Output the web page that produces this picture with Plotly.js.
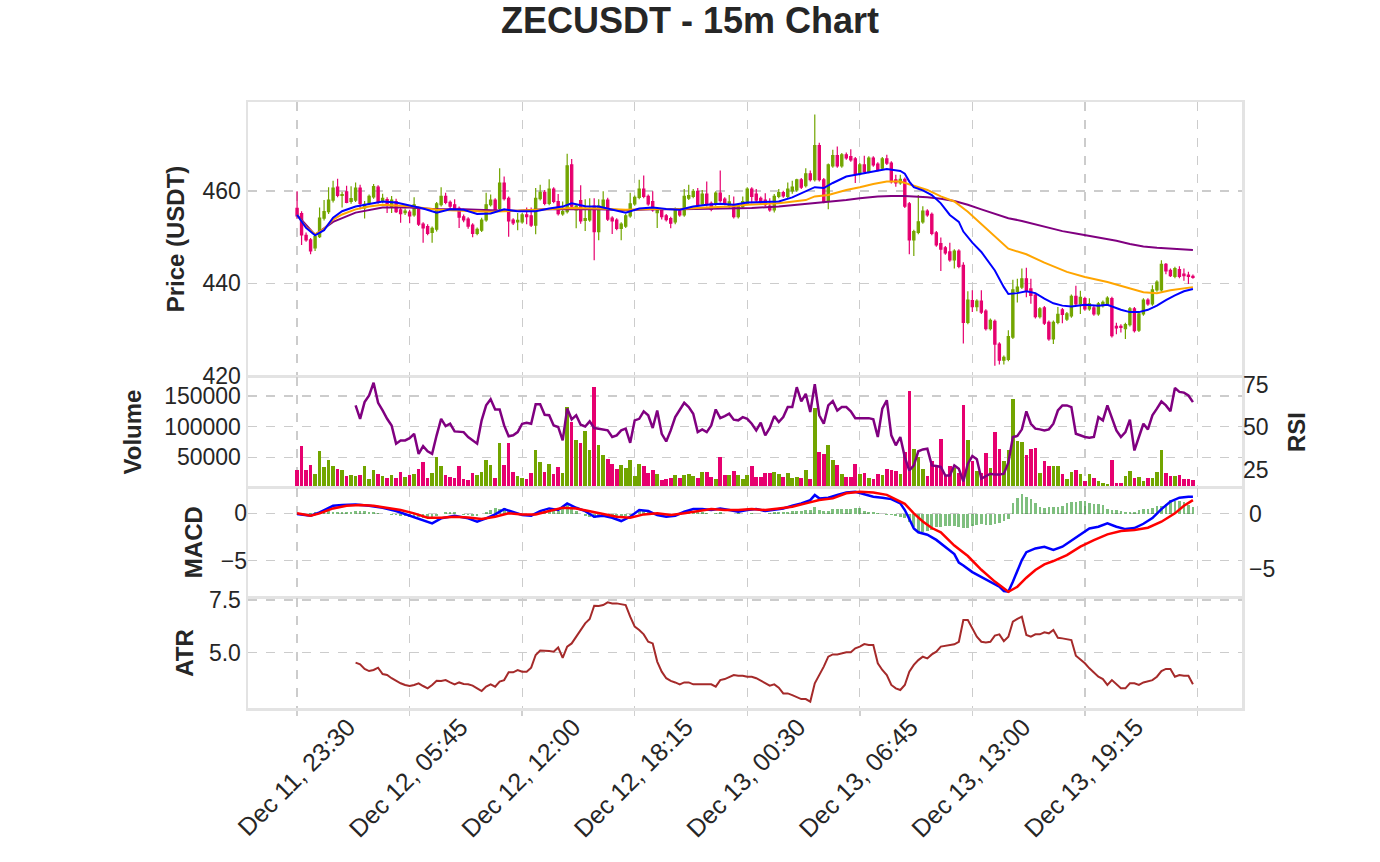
<!DOCTYPE html>
<html>
<head>
<meta charset="utf-8">
<script src="https://cdn.plot.ly/plotly-3.0.1.min.js"></script>
<style>
  body { margin: 0; background: #fff; }
  #chart { width: 1380px; height: 862px; }
</style>
</head>
<body>
<div id="chart"></div>
<script>
// ZECUSDT 15m candles, bar 0 = Dec 11 23:30
const tickPos = [0, 25, 50, 75, 100, 125, 150, 175, 200];
const tickLabels = ['Dec 11, 23:30', 'Dec 12, 05:45', 'Dec 12, 12:00', 'Dec 12, 18:15',
  'Dec 13, 00:30', 'Dec 13, 06:45', 'Dec 13, 13:00', 'Dec 13, 19:15', ''];

const opens = [
  456.2,455.1,450.4,449.4,447.7,450.1,454.1,455.5,458.0,460.8,
  459.0,459.8,457.7,458.0,460.6,456.3,457.3,458.7,460.8,457.7,
  458.1,456.6,457.7,455.9,455.3,455.4,454.8,456.1,452.8,452.3,
  451.0,451.7,457.0,458.8,457.5,457.0,456.2,454.4,453.9,452.6,
  450.8,451.5,453.7,457.0,458.0,456.2,461.7,458.4,453.7,453.3,
  453.3,454.8,454.6,452.6,458.3,459.7,457.3,460.4,457.7,455.0,
  455.5,465.6,455.9,457.9,453.6,453.7,456.7,451.2,456.6,458.0,
  454.1,453.7,451.9,452.4,454.6,457.2,458.6,460.4,458.8,457.7,
  455.3,455.9,454.6,454.0,453.3,455.7,454.8,458.4,458.8,459.9,
  457.2,459.3,457.3,457.2,459.5,458.2,456.7,456.7,454.4,456.6,
  457.3,460.4,459.3,458.4,458.0,456.7,455.9,458.8,459.6,458.8,
  460.0,460.2,462.4,461.1,463.7,462.4,469.8,462.4,457.7,465.4,
  467.6,465.4,467.8,467.4,466.9,463.7,465.6,464.2,467.1,465.8,
  464.9,466.9,466.0,462.4,461.7,462.5,457.2,449.4,451.0,453.3,
  455.6,454.9,450.9,448.6,447.7,446.8,445.1,447.0,443.9,431.6,
  436.3,435.0,436.2,434.0,430.2,431.8,426.9,423.4,423.6,428.4,
  438.3,439.2,441.0,438.8,437.5,432.8,434.7,431.6,428.0,431.6,
  434.3,432.3,433.0,437.2,435.6,436.7,434.5,434.7,433.4,435.2,
  435.6,436.7,430.7,430.7,430.2,431.1,434.5,429.9,433.4,436.4,
  435.6,438.6,438.6,444.1,442.8,441.5,443.0,442.0,441.8,441.5
];
const highs = [
  459.9,455.6,451.0,449.8,450.5,456.4,458.0,460.8,462.2,462.6,
  459.8,461.1,461.0,461.8,461.3,457.8,459.2,461.5,461.2,459.4,
  458.6,458.9,458.3,456.4,456.2,455.9,458.6,456.6,453.2,452.8,
  452.3,457.6,460.8,459.6,457.9,458.2,456.6,454.9,454.3,453.0,
  452.1,454.2,459.6,459.2,458.4,464.9,463.1,458.8,454.1,455.2,
  455.2,456.4,456.4,460.6,461.3,460.2,462.5,460.8,459.3,457.7,
  468.0,466.9,457.1,461.2,458.2,458.4,458.4,458.2,459.9,458.5,
  454.5,454.1,453.2,455.0,459.6,459.0,462.4,463.3,459.2,459.9,
  456.3,456.3,455.0,454.4,456.4,456.1,460.4,461.3,460.4,460.6,
  460.2,462.0,457.7,459.9,464.4,458.6,459.1,458.8,457.1,458.8,
  460.8,460.8,460.4,458.8,459.5,458.4,459.3,460.4,460.0,461.8,
  462.2,462.6,462.8,464.9,464.4,476.5,470.4,462.8,465.9,468.9,
  469.6,468.2,468.3,469.0,467.3,466.0,467.6,467.5,467.5,466.2,
  467.3,467.8,466.4,463.5,463.5,462.9,457.6,451.6,459.1,456.7,
  456.0,455.3,451.3,449.9,448.1,448.8,447.4,447.4,444.6,438.3,
  438.5,436.6,438.5,434.4,432.4,432.2,427.3,424.4,429.9,440.8,
  441.0,443.2,443.4,441.0,437.9,434.9,435.1,432.0,432.0,434.9,
  434.7,433.8,437.6,439.5,438.4,437.1,436.8,435.1,436.0,436.3,
  437.2,437.1,431.5,431.2,431.5,434.9,434.9,433.8,436.8,436.8,
  439.6,440.7,445.0,444.4,443.2,443.6,443.7,443.2,442.5,441.9
];
const lows = [
  454.0,448.3,449.0,446.3,447.0,449.8,453.6,455.0,457.5,458.6,
  456.4,457.3,457.2,457.6,456.0,454.0,457.0,458.3,457.2,457.3,
  455.2,455.2,455.2,453.1,454.8,453.0,454.4,452.4,448.8,450.4,
  448.8,451.2,456.6,457.1,456.2,455.8,452.0,453.2,451.8,450.0,
  450.4,451.1,453.3,456.6,455.5,455.8,457.9,450.1,452.6,451.5,
  452.9,452.8,452.2,450.6,457.9,456.9,456.9,457.3,454.7,454.6,
  455.1,456.3,451.9,452.9,451.3,453.3,445.0,449.3,456.2,453.5,
  450.7,451.5,449.3,452.0,454.2,456.8,458.2,458.4,456.8,455.5,
  452.0,453.8,453.4,451.9,452.8,454.4,454.4,458.0,458.4,456.6,
  456.8,456.6,455.6,456.8,457.5,456.9,456.3,454.0,454.0,456.2,
  456.9,457.3,457.6,457.1,456.6,455.5,455.3,458.4,458.5,458.4,
  459.4,459.8,460.4,460.7,462.0,462.0,462.0,457.3,456.0,465.0,
  465.0,465.0,466.7,466.3,461.7,463.3,463.8,463.8,465.2,464.2,
  464.5,465.6,461.6,460.9,461.3,456.3,446.3,445.9,450.6,452.9,
  454.4,450.4,447.9,442.7,446.2,444.7,443.2,443.3,427.0,431.2,
  433.8,434.0,433.4,429.8,429.8,422.2,422.5,422.5,423.2,428.0,
  435.9,438.8,437.0,435.6,432.4,432.4,431.0,427.6,426.9,431.2,
  431.4,431.9,432.6,435.2,433.4,434.1,434.1,433.0,433.0,434.8,
  435.2,428.3,429.0,429.4,428.0,430.7,429.4,429.5,433.0,435.2,
  435.2,438.2,438.2,442.0,441.4,441.1,441.1,440.6,439.9,441.0
];
const closes = [
  454.6,450.5,449.4,447.0,450.1,454.1,455.5,458.0,460.6,459.0,
  459.2,457.5,458.3,460.6,457.3,457.1,458.8,460.9,457.7,458.4,
  457.0,458.0,455.5,455.1,455.6,454.6,457.0,452.8,452.0,450.8,
  451.9,457.2,458.8,457.5,456.7,456.2,454.3,453.7,452.4,450.8,
  451.7,453.7,457.0,458.0,455.9,461.7,458.3,453.5,453.1,453.6,
  454.8,454.4,452.6,458.4,459.7,457.3,460.4,457.7,455.1,455.5,
  465.4,456.7,456.7,453.5,454.0,456.2,451.2,456.7,458.0,453.9,
  453.5,451.9,452.8,454.6,457.2,458.6,460.4,458.8,457.2,455.9,
  455.9,454.4,453.8,453.0,455.9,454.8,458.8,459.0,459.9,457.0,
  459.3,457.0,456.0,459.5,457.9,457.3,457.6,454.4,456.7,457.7,
  460.4,458.8,458.0,457.5,457.0,455.9,458.8,459.6,458.9,460.4,
  460.8,462.4,460.8,463.7,462.4,469.8,462.4,457.7,465.6,467.6,
  465.4,467.8,467.1,466.7,463.7,465.6,464.2,467.1,465.6,464.6,
  466.9,466.0,462.0,461.7,462.5,456.7,449.4,451.2,453.3,455.6,
  454.8,450.8,448.3,447.4,446.6,445.1,447.0,443.7,431.6,436.4,
  435.0,436.2,433.8,430.2,432.0,426.9,423.4,424.0,428.5,438.6,
  439.2,441.0,438.5,437.4,432.8,434.5,431.4,428.0,431.6,433.3,
  433.3,433.4,437.2,435.6,437.0,434.5,435.6,433.4,435.6,435.9,
  436.8,428.7,430.4,430.5,431.1,434.5,429.8,433.4,436.4,435.6,
  438.6,440.3,444.1,442.7,441.7,443.2,441.5,441.7,441.5,441.3
];
const volumes = [
  30100,67700,30100,38200,22000,60700,33900,46200,35500,31700,
  30100,19400,21000,19400,21000,35500,14000,29000,23100,19400,
  15600,21000,16700,25800,17700,21000,22000,31700,41900,15600,
  24700,50000,35500,21000,17700,16700,35500,14000,12900,24700,
  21000,26300,45200,37100,15600,74200,38200,74200,25800,19400,
  16700,14000,24700,61300,42500,25800,39800,22000,33900,23700,
  132200,108100,78500,74200,93000,61300,164500,69400,54300,47800,
  39200,31700,38200,32800,45200,19400,39800,35500,24700,30100,
  22000,12400,15100,16700,20400,16700,21000,22000,19400,15600,
  26300,26300,17700,14000,50000,21000,21000,27400,21000,14000,
  21000,35500,17700,17700,24700,24700,25800,23100,17700,23700,
  16700,17700,15600,29000,14000,130600,58100,55400,69400,45200,
  37100,22000,17700,17700,39800,23100,23700,15600,14000,22000,
  20400,31200,29000,27400,22000,58100,158000,63400,50000,31700,
  19400,44600,38200,80100,21000,35500,32800,24700,136000,78500,
  44600,28500,24700,57000,32800,91900,64000,44600,62400,145700,
  76900,74700,54300,64000,65000,24700,44600,35500,35500,35500,
  22000,14000,25800,29000,22000,11300,22000,15600,11300,8600,
  5900,46200,8600,8600,19400,28500,16700,17700,11300,15600,
  16700,25800,62400,24700,19400,19400,21000,14000,15100,13000
];

// moving averages, read at the bars listed in the matching *Idx arrays
const emaFastIdx = [0,2,4,6,8,10,13,16,19,22,25,28,31,34,37,40,43,46,49,53,56,59,61,64,67,70,73,76,79,82,85,88,91,94,97,100,104,107,110,113,115,117,119,122,125,128,131,134,135,136,137,139,141,143,145,147,148,150,152,155,157,158,160,162,164,166,168,170,172,175,178,180,183,185,187,189,191,193,195,197,199];
const emaFast = [454.8,452.0,450.4,451.5,454.2,455.6,456.6,457.1,457.7,457.5,456.8,456.2,455.3,456.0,455.9,455.0,455.1,456.0,455.6,455.6,456.2,456.6,457.3,456.7,456.6,455.9,455.3,456.2,456.4,456.1,455.9,456.6,457.0,457.2,457.0,457.5,457.7,457.7,458.6,459.9,460.8,460.6,461.7,463.1,463.7,464.2,464.7,464.3,463.7,462.0,460.8,460.1,459.1,457.3,454.8,453.3,451.2,448.8,446.8,442.8,439.2,437.7,437.9,438.3,437.9,436.7,435.7,435.2,435.0,435.4,435.2,435.4,434.3,433.8,433.8,434.3,435.2,436.4,437.4,438.3,438.8];
const emaMidIdx = [0,2,4,6,8,10,13,16,19,25,31,37,43,49,55,61,67,73,79,85,91,96,100,107,113,115,118,122,125,128,131,134,137,140,143,146,149,152,154,156,158,162,166,171,175,180,184,188,191,194,199];
const emaMid = [454.8,452.2,450.6,451.8,453.8,454.9,456.0,456.6,457.0,456.7,455.9,455.7,455.5,455.7,456.0,456.3,456.2,455.9,456.1,456.1,456.4,456.6,457.0,457.3,458.0,458.8,459.1,460.2,460.8,461.5,462.0,462.0,461.1,460.2,458.8,457.7,455.5,452.8,451.2,449.4,447.5,446.3,444.5,442.5,441.4,440.3,439.2,438.1,437.9,438.5,439.2];
const emaSlowIdx = [0,4,8,13,19,25,31,37,43,49,55,61,67,73,79,85,91,96,101,107,114,118,122,125,129,132,135,140,143,146,149,152,156,158,161,164,167,170,173,176,179,182,185,188,191,194,197,199];
const emaSlow = [454.8,450.5,453.3,455.3,456.4,456.4,456.0,456.0,455.8,455.7,456.0,456.0,456.0,455.8,456.0,456.0,456.1,456.3,456.3,456.6,457.2,457.5,458.0,458.4,458.8,458.9,458.9,458.6,458.3,457.8,457.0,456.0,454.8,454.1,453.5,452.8,452.0,451.3,450.8,450.3,449.7,449.2,448.5,448.0,447.7,447.5,447.4,447.2];

// RSI and ATR start at bar 13
const indicatorStart = 13;
const rsi = [
  62.9,55.0,64.8,68.7,76.2,64.4,59.9,55.0,51.1,40.4,
  42.3,42.3,43.6,46.2,34.4,38.9,35.9,34.4,45.3,55.0,
  50.7,52.1,47.6,47.6,47.2,44.3,42.3,40.4,54.1,62.9,
  66.5,60.5,60.5,51.1,44.7,45.3,47.2,52.1,52.7,52.1,
  63.5,63.5,57.4,57.1,51.1,50.2,42.3,61.0,54.7,57.1,
  51.5,50.5,53.5,49.6,49.2,48.8,48.2,44.3,45.3,48.2,
  49.2,40.9,54.1,55.0,59.4,57.1,49.6,59.9,46.2,41.7,
  48.2,56.0,59.9,64.4,61.9,58.0,47.2,48.8,47.2,51.1,
  60.5,55.4,56.6,58.0,54.5,54.1,56.0,55.0,52.1,48.2,
  52.7,45.3,49.6,56.6,53.1,56.0,61.9,61.9,73.6,65.2,
  69.7,59.0,75.3,57.1,52.1,62.9,65.4,59.9,61.9,61.9,
  59.4,55.4,55.4,55.4,55.4,54.7,44.3,61.0,65.9,45.3,
  39.4,44.3,32.5,24.6,27.6,35.9,37.0,37.4,27.6,27.2,
  26.7,21.7,21.7,27.6,25.6,18.2,28.6,33.1,31.2,19.8,
  21.3,22.7,22.2,22.2,22.7,29.2,44.3,44.9,48.8,59.4,
  52.1,49.2,48.8,48.2,48.8,52.1,59.9,62.9,62.9,61.9,
  46.2,45.3,44.3,43.9,44.3,56.0,54.1,62.9,55.0,48.2,
  44.3,47.2,54.5,36.4,44.3,52.1,48.8,57.1,61.0,65.2,
  62.9,59.4,73.1,70.8,70.4,68.7,64.8
];
const atr = [
  4.53,4.45,4.23,4.13,4.18,4.29,3.99,3.94,3.79,3.66,
  3.55,3.47,3.42,3.47,3.55,3.42,3.31,3.47,3.67,3.66,
  3.70,3.59,3.50,3.59,3.52,3.50,3.44,3.31,3.18,3.39,
  3.50,3.39,3.63,3.70,4.07,4.07,4.18,4.10,4.10,4.29,
  4.89,5.10,5.10,5.08,5.05,5.25,4.76,5.29,5.44,5.76,
  6.11,6.39,6.60,7.23,7.22,7.26,7.39,7.34,7.34,7.29,
  7.26,6.71,6.24,6.08,5.87,5.52,5.44,4.58,4.10,3.79,
  3.66,3.59,3.50,3.59,3.59,3.50,3.50,3.47,3.50,3.50,
  3.39,3.70,3.75,3.86,3.94,3.91,3.91,3.86,3.86,3.79,
  3.66,3.55,3.44,3.50,3.34,3.07,3.07,2.99,2.88,2.80,
  2.80,2.68,3.55,3.94,4.34,4.81,4.92,4.92,4.97,5.02,
  5.02,5.21,5.29,5.41,5.37,5.37,4.50,4.18,3.94,3.47,
  3.31,3.23,3.47,4.10,4.42,4.65,4.81,4.73,4.92,5.05,
  5.29,5.33,5.37,5.40,5.52,6.55,6.55,6.16,5.76,5.52,
  5.48,5.52,5.81,5.87,5.55,5.76,6.47,6.60,6.71,5.84,
  5.76,5.87,5.87,5.97,5.92,6.08,5.71,5.68,5.65,5.60,
  4.86,4.70,4.50,4.26,4.07,3.86,3.75,3.47,3.70,3.50,
  3.31,3.31,3.55,3.55,3.47,3.59,3.63,3.70,3.86,4.13,
  4.23,4.23,3.86,3.94,3.91,3.91,3.50
];

// MACD and signal lines read at the listed bars; histogram per bar (right axis)
const macdIdx = [0,3,5,8,10,13,16,19,22,25,28,30,32,35,38,40,42,44,46,48,50,52,54,56,58,60,62,64,66,68,70,72,74,76,78,80,82,84,86,88,90,92,94,96,98,100,102,104,106,108,110,112,114,115,116,118,120,122,124,126,128,130,132,134,135,136,137,138,140,142,144,146,147,148,150,152,154,156,157,158,159,160,161,162,164,166,168,170,172,174,176,178,180,182,184,186,188,190,192,194,196,198,199];
const macdLine = [-0.08,-0.25,0.10,0.80,0.87,0.94,0.80,0.59,0.24,-0.25,-0.71,-1.06,-0.53,-0.25,-0.53,-0.88,-0.53,-0.11,0.45,0.10,-0.18,-0.25,0.24,0.52,0.35,1.05,0.59,0.24,-0.36,-0.25,-0.46,-0.81,-0.36,0.35,0.24,-0.18,-0.36,-0.25,0.17,0.45,0.45,0.35,0.52,0.35,0.17,0.35,0.45,0.24,0.35,0.52,0.80,1.05,1.40,1.93,1.58,1.65,1.93,2.21,2.28,2.00,1.75,1.65,1.50,1.05,0.35,-0.60,-1.60,-2.00,-2.25,-2.80,-3.52,-4.30,-5.20,-5.50,-6.20,-6.70,-7.20,-7.74,-8.20,-8.27,-7.21,-5.98,-4.93,-4.10,-3.70,-3.52,-3.87,-3.52,-2.90,-2.22,-1.59,-1.41,-1.06,-1.41,-1.66,-1.55,-1.10,-0.50,0.45,1.25,1.65,1.75,1.75];
const signalIdx = [0,3,5,8,11,14,17,20,23,26,29,32,35,38,41,44,47,50,53,56,59,62,65,68,71,74,77,80,83,86,89,92,95,98,101,104,107,110,113,116,119,122,125,128,131,133,135,137,139,141,143,146,149,152,155,158,160,162,164,166,168,171,174,177,180,183,186,189,192,195,197,199];
const signalLine = [0.0,-0.25,0.0,0.52,0.80,0.87,0.80,0.59,0.35,0.0,-0.46,-0.46,-0.36,-0.43,-0.60,-0.36,0.0,-0.11,-0.11,0.24,0.59,0.52,0.24,-0.11,-0.36,-0.46,-0.11,0.0,-0.18,0.0,0.24,0.45,0.35,0.35,0.45,0.35,0.52,0.70,1.05,1.40,1.58,2.11,2.28,2.21,1.95,1.50,1.00,0.0,-0.85,-1.55,-2.00,-3.40,-4.50,-5.95,-7.20,-8.27,-7.74,-6.79,-5.98,-5.38,-5.03,-4.40,-3.52,-2.82,-2.22,-1.87,-1.76,-1.52,-0.88,0.0,0.80,1.40];
const macdHist = [
  0.0,-0.05,0.05,0.1,0.15,
  0.2,0.25,0.25,0.2,0.2,0.15,0.15,0.2,
  0.25,0.27,0.25,0.2,0.15,
  0.1,0.05,0.0,-0.05,-0.1,
  -0.15,-0.2,-0.25,-0.25,-0.3,-0.33,-0.3,-0.35,-0.2,
  0.05,0.15,0.2,0.15,
  0.0,-0.05,-0.1,-0.15,-0.2,
  0.0,0.2,0.4,0.58,0.5,0.52,0.3,
  0.1,-0.05,-0.1,-0.1,-0.05,0.05,
  0.15,0.25,0.3,0.25,0.3,0.45,0.8,0.5,0.3,
  0.0,-0.15,-0.3,-0.4,-0.3,-0.25,-0.3,-0.35,-0.3,
  -0.4,-0.2,-0.05,0.1,
  0.35,0.3,0.2,0.05,-0.1,
  -0.15,-0.1,-0.05,0.0,0.05,
  0.15,0.25,0.27,0.2,0.15,0.1,0.05,0.1,0.15,0.05,
  0.0,0.05,0.1,0.0,0.05,0.1,0.05,0.0,0.05,
  0.1,0.15,0.2,0.2,0.2,0.25,0.3,0.25,
  0.35,0.4,0.6,0.4,0.3,0.3,
  0.45,0.5,0.5,0.45,0.5,0.58,0.55,
  0.3,0.2,0.15,0.1,0.05,
  -0.05,-0.1,-0.2,-0.3,-0.4,-0.7,-1.2,
  -1.76,-1.6,-1.5,-1.45,-1.2,-1.15,-1.1,-1.05,-1.1,-1.2,-1.3,-1.25,-1.1,-0.95,-0.9,-0.95,-1.0,-0.9,-0.8,-0.6,-0.45,
  0.97,1.48,1.79,1.58,1.36,0.97,0.67,0.58,0.62,0.67,0.65,0.7,
  1.0,1.12,1.1,1.15,1.18,1.05,0.95,0.9,0.85,
  0.45,0.4,0.35,0.3,0.21,0.15,0.2,
  0.35,0.45,0.5,0.55,0.7,0.76,0.9,
  1.27,1.2,1.18,1.1,0.8,0.67
];

const UP = '#72a500';
const DOWN = '#e6006f';
const INK = '#262626';
const GRID = '#cccccc';
const FRAME = '#e3e3e3';
const FONT = 'Liberation Sans, Arial, sans-serif';

const bars = opens.map((_, i) => i);
const indIdx = rsi.map((_, i) => i + indicatorStart);
const volColors = closes.map((c, i) => (c >= opens[i] ? UP : DOWN));

const traces = [
  {
    type: 'candlestick', x: bars, open: opens, high: highs, low: lows, close: closes,
    xaxis: 'x', yaxis: 'y', whiskerwidth: 0,
    increasing: { line: { color: UP, width: 1.2 }, fillcolor: UP },
    decreasing: { line: { color: DOWN, width: 1.2 }, fillcolor: DOWN },
    hoverinfo: 'skip'
  },
  { type: 'scatter', mode: 'lines', x: emaSlowIdx, y: emaSlow, xaxis: 'x', yaxis: 'y',
    line: { color: '#800080', width: 2 } },
  { type: 'scatter', mode: 'lines', x: emaMidIdx, y: emaMid, xaxis: 'x', yaxis: 'y',
    line: { color: '#ffa500', width: 2 } },
  { type: 'scatter', mode: 'lines', x: emaFastIdx, y: emaFast, xaxis: 'x', yaxis: 'y',
    line: { color: '#0000ff', width: 2 } },

  { type: 'bar', x: bars, y: volumes, xaxis: 'x2', yaxis: 'y2', width: 0.8,
    marker: { color: volColors, line: { width: 0 } } },
  { type: 'scatter', mode: 'lines', x: indIdx, y: rsi, xaxis: 'x2', yaxis: 'y3',
    line: { color: '#800080', width: 2.5 } },

  { type: 'bar', x: bars, y: macdHist, xaxis: 'x3', yaxis: 'y4', width: 0.6,
    marker: { color: 'rgba(0,128,0,0.5)', line: { width: 0 } } },
  { type: 'scatter', mode: 'lines', x: macdIdx, y: macdLine, xaxis: 'x3', yaxis: 'y5',
    line: { color: '#0000ff', width: 2.5 } },
  { type: 'scatter', mode: 'lines', x: signalIdx, y: signalLine, xaxis: 'x3', yaxis: 'y5',
    line: { color: '#ff0000', width: 2.5 } },

  { type: 'scatter', mode: 'lines', x: indIdx, y: atr, xaxis: 'x4', yaxis: 'y6',
    line: { color: '#a52a2a', width: 2 } }
];

function xAxis(anchor, bottom) {
  return {
    anchor: anchor, domain: [0, 1], range: [-10.9, 209.9],
    tickmode: 'array', tickvals: tickPos, ticktext: tickLabels,
    showticklabels: bottom, tickangle: -45,
    ticklabelshift: 51, ticklabelstandoff: -13,
    ticks: bottom ? 'outside' : '', ticklen: 5, tickwidth: 1.5, tickcolor: '#d0d0d0',
    tickfont: { size: 25, color: INK },
    showgrid: true, gridcolor: GRID, griddash: 'dash', gridwidth: 1.3,
    showline: true, mirror: true, linecolor: FRAME, linewidth: 2.5,
    zeroline: false, rangeslider: { visible: false }, fixedrange: true
  };
}

function yAxis(extra, title, standoff) {
  return Object.assign({
    tickmode: 'array', ticks: '', tickfont: { size: 23, color: INK },
    showgrid: true, gridcolor: GRID, griddash: 'dash', gridwidth: 1.3,
    showline: true, mirror: true, linecolor: FRAME, linewidth: 2.5,
    zeroline: false, fixedrange: true,
    title: { text: title, standoff: standoff, font: { size: 24, color: INK, weight: 'bold' } }
  }, extra);
}

const layout = {
  width: 1380, height: 862,
  paper_bgcolor: '#ffffff', plot_bgcolor: '#ffffff',
  font: { family: FONT, color: INK },
  showlegend: false,
  margin: { l: 248, r: 138, t: 102, b: 154, pad: 0 },
  title: { text: 'ZECUSDT - 15m Chart', x: 0.5, xanchor: 'center', xref: 'container',
    y: 1 - 20 / 862, yref: 'container', yanchor: 'middle',
    font: { size: 36, color: INK, weight: 'bold' } },
  bargap: 0,
  xaxis: xAxis('y', false),
  xaxis2: xAxis('y2', false),
  xaxis3: xAxis('y4', false),
  xaxis4: xAxis('y6', true),
  yaxis: yAxis({ domain: [0.5479, 1], range: [420, 479.2], tickvals: [420, 440, 460] },
    'Price (USDT)', 11),
  yaxis2: yAxis({ domain: [0.3652, 0.5457], range: [2100, 180600],
    tickvals: [50000, 100000, 150000], tickformat: 'd' }, 'Volume', 16),
  yaxis3: yAxis({ overlaying: 'y2', anchor: 'x2', side: 'right', range: [15.1, 79.4],
    tickvals: [25, 50, 75], showgrid: false, showline: false }, 'RSI', 20),
  yaxis4: yAxis({ domain: [0.1848, 0.3625], anchor: 'x3', side: 'right', range: [-7.45, 2.34],
    tickvals: [0, -5], showgrid: false }, '', 0),
  yaxis5: yAxis({ overlaying: 'y4', anchor: 'x3', side: 'left', range: [-8.72, 2.64],
    tickvals: [0, -5], showline: false }, 'MACD', 11),
  yaxis6: yAxis({ domain: [0, 0.1815], anchor: 'x4', range: [2.377, 7.595],
    tickvals: [5, 7.5], tickformat: '.1f' }, 'ATR', 9)
};

Plotly.newPlot('chart', traces, layout, { displayModeBar: false, staticPlot: true });
</script>
</body>
</html>
